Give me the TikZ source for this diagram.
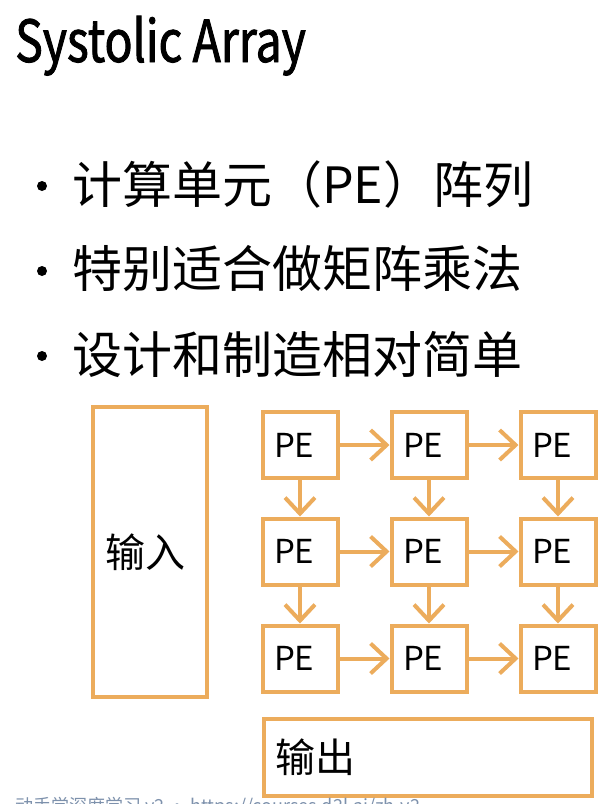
\documentclass[tikz,border=0pt]{standalone}
\usepackage{fontspec}
\setmainfont{Noto Sans CJK SC}
\newfontfamily\titlefont[FakeStretch=0.8, FakeBold=1.5]{Noto Sans CJK SC}
\usetikzlibrary{arrows.meta}

\definecolor{peorange}{RGB}{236,172,92}
\definecolor{footgray}{RGB}{125,145,172}

\begin{document}
\begin{tikzpicture}[x=1pt, y=-1pt,
    box/.style={draw=peorange, line width=4pt, inner sep=0pt},
    pe/.style={box, minimum width=75pt, minimum height=66pt, text width=52pt, align=left, font=\fontsize{33}{36}\selectfont},
    flow/.style={draw=peorange, line width=4pt, -{Straight Barb[length=16pt, width=30pt]}},
    bigtext/.style={anchor=west, inner sep=0pt, font=\fontsize{50}{60}\selectfont}]

% white page with the reference margins
\useasboundingbox (0,0) rectangle (616,804);
\fill[white] (0,0) rectangle (616,804);

% title
\node[anchor=base west, inner sep=0pt, font=\titlefont\fontsize{58}{70}\selectfont] (title) at (15,62) {Systolic Array};

% three bullet lines
\fill (42,186) circle (5);
\node[bigtext] (lineA) at (72,184) {计算单元（PE）阵列};
\fill (42,271) circle (5);
\node[bigtext] (lineB) at (72,269) {特别适合做矩阵乘法};
\fill (42,356) circle (5);
\node[bigtext] (lineC) at (72,354) {设计和制造相对简单};

% input column on the left
\node[box, minimum width=114pt, minimum height=290pt, text width=90pt, align=left, font=\fontsize{40}{48}\selectfont] (input) at (150,552) {输入};

% the 3x3 array of processing elements
\node[pe] (pe11) at (300,445) {PE};
\node[pe] (pe12) at (429,445) {PE};
\node[pe] (pe13) at (558,445) {PE};
\node[pe] (pe21) at (300,551.5) {PE};
\node[pe] (pe22) at (429,551.5) {PE};
\node[pe] (pe23) at (558,551.5) {PE};
\node[pe] (pe31) at (300,658.5) {PE};
\node[pe] (pe32) at (429,658.5) {PE};
\node[pe] (pe33) at (558,658.5) {PE};

% data moves to the right
\draw[flow] (pe11) -- (pe12);
\draw[flow] (pe12) -- (pe13);
\draw[flow] (pe21) -- (pe22);
\draw[flow] (pe22) -- (pe23);
\draw[flow] (pe31) -- (pe32);
\draw[flow] (pe32) -- (pe33);

% and downwards
\draw[flow] (pe11) -- (pe21);
\draw[flow] (pe21) -- (pe31);
\draw[flow] (pe12) -- (pe22);
\draw[flow] (pe22) -- (pe32);
\draw[flow] (pe13) -- (pe23);
\draw[flow] (pe23) -- (pe33);

% output row at the bottom
\node[box, minimum width=328pt, minimum height=77pt, text width=306pt, align=left, font=\fontsize{40}{48}\selectfont] (output) at (428,757.5) {输出};

% footer, cut off by the lower edge
\begin{scope}
    \clip (0,0) rectangle (616,804);
    \node[anchor=base west, inner sep=0pt, text=footgray, font=\fontsize{18}{20}\selectfont] (footer) at (15,812) {动手学深度学习 v2 · https://courses.d2l.ai/zh-v2};
\end{scope}

\end{tikzpicture}
\end{document}
